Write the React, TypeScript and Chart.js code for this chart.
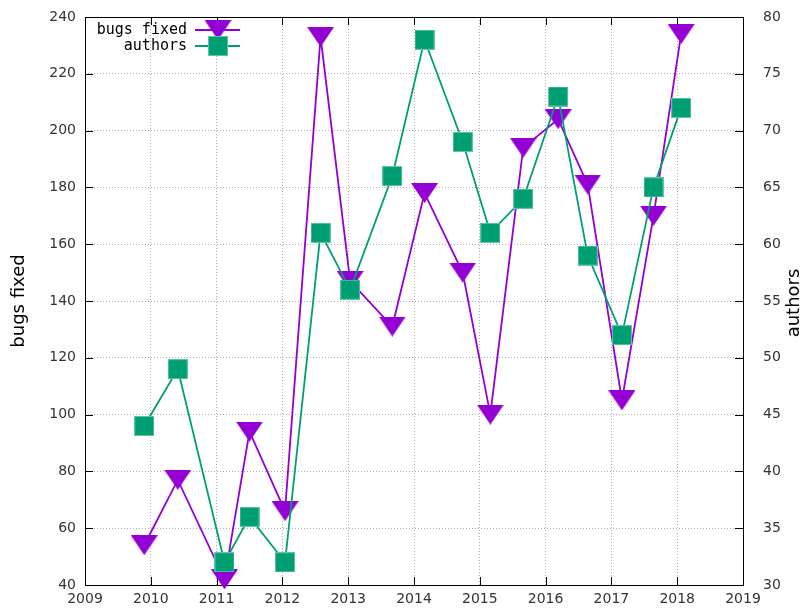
import React, { useEffect, useRef } from "react";
import { Chart, registerables } from "chart.js";

Chart.register(...registerables);

const releaseYears = [2009.9, 2010.41, 2011.12, 2011.5, 2012.04, 2012.58, 2013.03, 2013.67, 2014.16, 2014.74, 2015.16, 2015.66, 2016.19, 2016.64, 2017.16, 2017.64, 2018.06];
const bugsFixed = [54, 77, 42, 94, 66, 233, 147, 131, 178, 150, 100, 194, 204, 181, 105, 170, 234];
const authors = [44, 49, 32, 36, 32, 61, 56, 66, 78, 69, 61, 64, 73, 59, 52, 65, 72];
const xTickLabels = ["2009", "2010", "2011", "2012", "2013", "2014", "2015", "2016", "2017", "2018", "2019"];
const seriesNames = ["bugs fixed", "authors"];
const axisTitles = ["bugs fixed", "authors"];

const PURPLE = "#9400D3";
const GREEN = "#009E73";
const TICK_FONT = { family: "'DejaVu Sans', sans-serif", size: 14 };

function makeTriangle(color: string, w: number, h: number) {
  const c = document.createElement("canvas");
  c.width = w;
  c.height = h;
  const g = c.getContext("2d")!;
  g.fillStyle = color;
  g.beginPath();
  g.moveTo(0, 0);
  g.lineTo(w, 0);
  g.lineTo(w / 2, h);
  g.closePath();
  g.fill();
  return c;
}

function makeSquare(color: string, s: number) {
  const c = document.createElement("canvas");
  c.width = s;
  c.height = s;
  const g = c.getContext("2d")!;
  g.fillStyle = "#5fc4a6";
  g.fillRect(0, 0, s, s);
  g.fillStyle = color;
  g.fillRect(1, 1, s - 2, s - 2);
  return c;
}

function zeroPad(s: any) {
  s.paddingTop = 0;
  s.paddingBottom = 0;
  s.paddingLeft = 0;
  s.paddingRight = 0;
}

export default function App() {
  const ref = useRef<HTMLCanvasElement>(null);
  useEffect(() => {
    if (!ref.current) return;
    const tri = makeTriangle(PURPLE, 27, 20);
    const sq = makeSquare(GREEN, 20);

    const framePlugin = {
      id: "frame",
      beforeDatasetsDraw(chart: any) {
        const { ctx, chartArea: a, scales } = chart;
        ctx.save();
        ctx.strokeStyle = "#000";
        ctx.lineWidth = 1;
        const L = 8;
        ctx.beginPath();
        scales.x.ticks.forEach((t: any) => {
          const px = Math.round(scales.x.getPixelForValue(t.value)) + 0.5;
          ctx.moveTo(px, a.bottom);
          ctx.lineTo(px, a.bottom - L);
          ctx.moveTo(px, a.top);
          ctx.lineTo(px, a.top + L);
        });
        scales.y.ticks.forEach((t: any) => {
          const py = Math.round(scales.y.getPixelForValue(t.value)) + 0.5;
          ctx.moveTo(a.left, py);
          ctx.lineTo(a.left + L, py);
        });
        scales.y1.ticks.forEach((t: any) => {
          const py = Math.round(scales.y1.getPixelForValue(t.value)) + 0.5;
          ctx.moveTo(a.right, py);
          ctx.lineTo(a.right - L, py);
        });
        ctx.stroke();
        ctx.strokeRect(Math.round(a.left) + 0.5, Math.round(a.top) + 0.5, Math.round(a.right - a.left), Math.round(a.bottom - a.top));
        ctx.restore();
      },
      afterDatasetsDraw(chart: any) {
        const { ctx } = chart;
        ctx.save();
        ctx.font = "15px 'DejaVu Sans Mono', monospace";
        ctx.fillStyle = "#000";
        ctx.textAlign = "right";
        ctx.textBaseline = "middle";
        const rows = [
          { name: seriesNames[0], color: PURPLE, img: tri, y: 30 },
          { name: seriesNames[1], color: GREEN, img: sq, y: 46 },
        ];
        rows.forEach((r) => {
          ctx.fillText(r.name, 187, r.y);
          ctx.strokeStyle = r.color;
          ctx.lineWidth = 2;
          ctx.beginPath();
          ctx.moveTo(195, r.y);
          ctx.lineTo(240, r.y);
          ctx.stroke();
          ctx.drawImage(r.img, 218 - r.img.width / 2, r.y - r.img.height / 2);
        });
        ctx.restore();
      },
      afterDraw(chart: any) {
        const { ctx } = chart;
        ctx.save();
        ctx.font = "18px 'DejaVu Sans', sans-serif";
        ctx.fillStyle = "#000";
        ctx.textAlign = "center";
        ctx.textBaseline = "alphabetic";
        ctx.translate(24, 301);
        ctx.rotate(-Math.PI / 2);
        ctx.fillText(axisTitles[0], 0, 0);
        ctx.restore();
        ctx.save();
        ctx.font = "18px 'DejaVu Sans', sans-serif";
        ctx.fillStyle = "#000";
        ctx.textAlign = "center";
        ctx.textBaseline = "alphabetic";
        ctx.translate(799, 303);
        ctx.rotate(-Math.PI / 2);
        ctx.fillText(axisTitles[1], 0, 0);
        ctx.restore();
      },
    };

    const chart = new Chart(ref.current, {
      type: "line",
      data: {
        datasets: [
          {
            label: seriesNames[0],
            data: releaseYears.map((x, i) => ({ x, y: bugsFixed[i] })),
            borderColor: PURPLE,
            backgroundColor: PURPLE,
            borderWidth: 1.8,
            pointStyle: tri as any,
            pointRadius: 10,
            yAxisID: "y",
            order: 1,
            clip: false as any,
            tension: 0,
          },
          {
            label: seriesNames[1],
            data: releaseYears.map((x, i) => ({ x, y: authors[i] })),
            borderColor: GREEN,
            backgroundColor: GREEN,
            borderWidth: 1.8,
            pointStyle: sq as any,
            pointRadius: 10,
            yAxisID: "y1",
            order: 0,
            clip: false as any,
            tension: 0,
          },
        ],
      },
      options: {
        animation: false,
        responsive: false,
        events: [],
        layout: { padding: { top: 17, left: 0, right: 0, bottom: 0 } },
        plugins: { legend: { display: false }, tooltip: { enabled: false } },
        scales: {
          x: {
            type: "linear",
            min: 2009,
            max: 2019,
            afterFit: (s: any) => {
              s.height = 23;
              zeroPad(s);
            },
            ticks: {
              stepSize: 1,
              font: TICK_FONT,
              color: "#333",
              padding: 6,
              maxRotation: 0,
              callback: (_v: any, i: number) => xTickLabels[i],
            },
            grid: { color: "#b0b0b0", lineWidth: 1, drawTicks: false },
            border: { display: false, dash: [1, 2] },
          },
          y: {
            type: "linear",
            position: "left",
            min: 40,
            max: 240,
            afterFit: (s: any) => {
              s.width = 85;
              zeroPad(s);
            },
            ticks: { stepSize: 20, font: TICK_FONT, color: "#333", padding: 9 },
            grid: { color: "#b0b0b0", lineWidth: 1, drawTicks: false },
            border: { display: false, dash: [1, 2] },
          },
          y1: {
            type: "linear",
            position: "right",
            min: 30,
            max: 80,
            afterFit: (s: any) => {
              s.width = 58;
              zeroPad(s);
            },
            ticks: { stepSize: 5, font: TICK_FONT, color: "#333", padding: 20 },
            grid: { drawOnChartArea: false, drawTicks: false },
            border: { display: false },
          },
        },
      },
      plugins: [framePlugin],
    });
    return () => chart.destroy();
  }, []);

  return (
    <div style={{ position: "absolute", left: 0, top: 0, width: 801, height: 608, background: "#fff" }}>
      <canvas ref={ref} width={801} height={608} style={{ display: "block" }} />
    </div>
  );
}
